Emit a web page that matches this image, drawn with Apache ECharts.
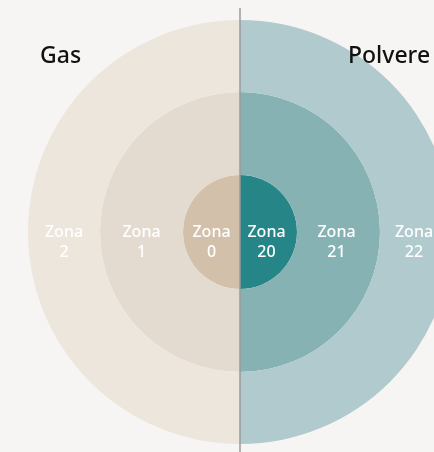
<!DOCTYPE html>
<html>
<head>
<meta charset="utf-8">
<script src="https://cdn.jsdelivr.net/npm/echarts@6/dist/echarts.min.js"></script>
<style>
  html, body { margin: 0; padding: 0; background: #f6f5f3; }
  #chart { width: 434px; height: 452px; }
</style>
</head>
<body>
<div id="chart"></div>
<script>
// rings from the centre outwards: [right half (Polvere), left half (Gas)]
const gasZones = ['Zona 0', 'Zona 1', 'Zona 2'];
const dustZones = ['Zona 20', 'Zona 21', 'Zona 22'];
const gasColors = ['#d3c0ab', '#e4dbd0', '#ede6dd'];
const dustColors = ['#268586', '#87b2b3', '#b0cacd'];
const ringRadius = [[0, 57], [57, 140], [140, 212]];
const groupTitles = ['Gas', 'Polvere'];

const chart = echarts.init(document.getElementById('chart'));
const cx = 240, cy = 232;

const labelStyle = {
  show: true,
  position: 'inside',
  formatter: p => p.name.replace(' ', '\n'),
  color: '#ffffff',
  fontFamily: 'Noto Sans',
  fontSize: 16,
  fontWeight: 500,
  lineHeight: 20
};

const series = ringRadius.map((r, i) => ({
  type: 'pie',
  center: [cx, cy],
  radius: r,
  startAngle: 90,
  clockwise: true,
  silent: true,
  animation: false,
  labelLine: { show: false },
  label: labelStyle,
  itemStyle: { borderWidth: 0 },
  data: [
    { name: dustZones[i], value: 1, itemStyle: { color: dustColors[i] },
      label: { offset: [-5, 10] } },
    { name: gasZones[i], value: 1, itemStyle: { color: gasColors[i] },
      label: { offset: [3, 10] } }
  ]
}));

const titleStyle = { fontFamily: 'Noto Sans', fontSize: 23, fontWeight: 500, color: '#111' };

chart.setOption({
  backgroundColor: '#f6f5f3',
  title: [
    { text: groupTitles[0], left: 35, top: 40, textStyle: titleStyle },
    { text: groupTitles[1], left: 343, top: 40, textStyle: titleStyle }
  ],
  series: series,
  graphic: [{
    type: 'line',
    z: 100,
    shape: { x1: cx, y1: 8, x2: cx, y2: 452 },
    style: { stroke: '#9a9a9a', lineWidth: 1.5 }
  }]
});
</script>
</body>
</html>
